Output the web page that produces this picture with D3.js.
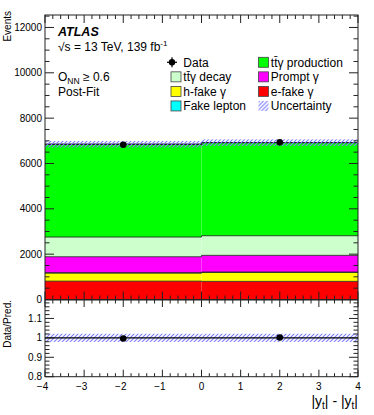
<!DOCTYPE html>
<html>
<head>
<meta charset="utf-8">
<script src="https://cdn.jsdelivr.net/npm/d3@7"></script>
<style>
body { margin: 0; background: #fff; }
text { font-family: "Liberation Sans", Arial, sans-serif; fill: #000; }
</style>
</head>
<body>
<div id="chart"></div>
<script>
// bins in |y_t| - |y_tbar|
const binEdges = [-4, 0, 4];
const binCenters = [-2, 2];

// stacked post-fit prediction, bottom to top
const eFake = [810, 800];
const hFake = [355, 395];
const fakeLepton = [15, 15];
const promptGamma = [706, 737];
const ttDecay = [869, 866];
const ttProduction = [4093, 4106];

const dataValues = [6828, 6932];
const relUncertainty = [0.021, 0.021];

const xTicks = [-4, -3, -2, -1, 0, 1, 2, 3, 4];
const yTicksMain = [0, 2000, 4000, 6000, 8000, 10000, 12000];
const yTicksRatio = [0.8, 0.9, 1, 1.1];

const width = 374, height = 415;
const left = 45, right = 358;
const mainTop = 15, mainBottom = 299.5;
const ratioTop = 300, ratioBottom = 376.7;

const svg = d3.select("#chart").append("svg")
    .attr("width", width)
    .attr("height", height);

const defs = svg.append("defs");
defs.append("pattern")
    .attr("id", "hatch")
    .attr("patternUnits", "userSpaceOnUse")
    .attr("width", 4).attr("height", 4)
    .append("path")
    .attr("d", "M-1,1 l2,-2 M0,4 l4,-4 M3,5 l2,-2")
    .attr("fill", "none")
    .attr("stroke", "#7b7bff")
    .attr("stroke-width", 1.1);

const x = d3.scaleLinear().domain([-4, 4]).range([left, right]);
const y = d3.scaleLinear().domain([0, 12550]).range([mainBottom, mainTop]);
const yr = d3.scaleLinear().domain([0.8, 1.195]).range([ratioBottom, ratioTop]);

const samples = [
    {key: "eFake", values: eFake, color: "#ff0000"},
    {key: "hFake", values: hFake, color: "#ffff00"},
    {key: "fakeLepton", values: fakeLepton, color: "#00ffff"},
    {key: "prompt", values: promptGamma, color: "#ff00ff"},
    {key: "ttDecay", values: ttDecay, color: "#ccffcc"},
    {key: "ttProd", values: ttProduction, color: "#00ff00"}
];

const rows = binCenters.map((c, i) => {
    const r = {bin: i};
    samples.forEach(s => r[s.key] = s.values[i]);
    return r;
});
const stacked = d3.stack().keys(samples.map(s => s.key))(rows);
const totals = rows.map((r, i) => d3.sum(samples, s => s.values[i]));

// stacked histogram
const main = svg.append("g");
stacked.forEach((layer, li) => {
    main.append("g")
        .attr("fill", samples[li].color)
        .selectAll("rect")
        .data(layer)
        .join("rect")
        .attr("x", (d, i) => x(binEdges[i]))
        .attr("width", (d, i) => x(binEdges[i + 1]) - x(binEdges[i]))
        .attr("y", d => y(d[1]))
        .attr("height", d => y(d[0]) - y(d[1]));
});

const step = d3.line().curve(d3.curveStepAfter).x(d => x(d[0])).y(d => d[1]);
const stepPoints = (vals, sc) => binEdges.map((e, i) => [e, sc(vals[Math.min(i, vals.length - 1)])]);

stacked.forEach((layer, li) => {
    main.append("path")
        .attr("d", step(stepPoints(layer.map(d => d[1]), y)))
        .attr("fill", "none")
        .attr("stroke", "#1a1a1a")
        .attr("stroke-width", li === stacked.length - 1 ? 1.3 : 0.8);
});

// uncertainty band
main.append("g").selectAll("rect")
    .data(totals)
    .join("rect")
    .attr("x", (d, i) => x(binEdges[i]))
    .attr("width", (d, i) => x(binEdges[i + 1]) - x(binEdges[i]))
    .attr("y", (d, i) => y(d * (1 + relUncertainty[i])))
    .attr("height", (d, i) => y(d * (1 - relUncertainty[i])) - y(d * (1 + relUncertainty[i])))
    .attr("fill", "url(#hatch)");

// data
const dataG = main.append("g");
dataG.selectAll("line")
    .data(dataValues)
    .join("line")
    .attr("x1", (d, i) => x(binCenters[i])).attr("x2", (d, i) => x(binCenters[i]))
    .attr("y1", d => y(d + Math.sqrt(d))).attr("y2", d => y(d - Math.sqrt(d)))
    .attr("stroke", "#000").attr("stroke-width", 1.2);
dataG.selectAll("circle")
    .data(dataValues)
    .join("circle")
    .attr("cx", (d, i) => x(binCenters[i]))
    .attr("cy", d => y(d))
    .attr("r", 3.3)
    .attr("fill", "#000");

// ratio panel
const ratio = svg.append("g");
ratio.append("g").selectAll("rect")
    .data(relUncertainty)
    .join("rect")
    .attr("x", (d, i) => x(binEdges[i]))
    .attr("width", (d, i) => x(binEdges[i + 1]) - x(binEdges[i]))
    .attr("y", d => yr(1 + d))
    .attr("height", d => yr(1 - d) - yr(1 + d))
    .attr("fill", "url(#hatch)");
ratio.append("line")
    .attr("x1", x(-4)).attr("x2", x(4))
    .attr("y1", yr(1)).attr("y2", yr(1))
    .attr("stroke", "#000").attr("stroke-width", 1.2);
const ratios = dataValues.map((d, i) => d / totals[i]);
ratio.selectAll("line.err")
    .data(ratios)
    .join("line")
    .attr("class", "err")
    .attr("x1", (d, i) => x(binCenters[i])).attr("x2", (d, i) => x(binCenters[i]))
    .attr("y1", (d, i) => yr(d + Math.sqrt(dataValues[i]) / totals[i]))
    .attr("y2", (d, i) => yr(d - Math.sqrt(dataValues[i]) / totals[i]))
    .attr("stroke", "#000").attr("stroke-width", 1.2);
ratio.selectAll("circle")
    .data(ratios)
    .join("circle")
    .attr("cx", (d, i) => x(binCenters[i]))
    .attr("cy", d => yr(d))
    .attr("r", 3.3)
    .attr("fill", "#000");

// axes with ROOT style inward ticks
const axisColor = "#222";
function drawTicks(g, values, orient, pos, len, sc) {
    g.selectAll(null)
        .data(values)
        .join("line")
        .attr("x1", d => orient === "h" ? sc(d) : pos)
        .attr("x2", d => orient === "h" ? sc(d) : pos + len)
        .attr("y1", d => orient === "h" ? pos : sc(d))
        .attr("y2", d => orient === "h" ? pos + len : sc(d))
        .attr("stroke", axisColor)
        .attr("stroke-width", 1);
}
const xMinor = d3.range(-4, 4.001, 0.2).filter(v => Math.abs(v - Math.round(v)) > 1e-6);
const yMinorMain = d3.range(0, 12550, 500).filter(v => v % 2000 !== 0);
const yMinorRatio = d3.range(0.8, 1.195, 0.02).filter(v => Math.abs(v * 10 - Math.round(v * 10)) > 1e-6);

const axes = svg.append("g");
// main panel
drawTicks(axes, xTicks, "h", mainBottom, -8, x);
drawTicks(axes, xMinor, "h", mainBottom, -4, x);
drawTicks(axes, xTicks, "h", mainTop, 8, x);
drawTicks(axes, xMinor, "h", mainTop, 4, x);
drawTicks(axes, yTicksMain, "v", left, 9, y);
drawTicks(axes, yMinorMain, "v", left, 4.5, y);
drawTicks(axes, yTicksMain, "v", right, -9, y);
drawTicks(axes, yMinorMain, "v", right, -4.5, y);
// ratio panel
drawTicks(axes, xTicks, "h", ratioBottom, -7, x);
drawTicks(axes, xMinor, "h", ratioBottom, -3.5, x);
drawTicks(axes, xTicks, "h", ratioTop, 7, x);
drawTicks(axes, xMinor, "h", ratioTop, 3.5, x);
drawTicks(axes, yTicksRatio, "v", left, 9, yr);
drawTicks(axes, yMinorRatio, "v", left, 4.5, yr);
drawTicks(axes, yTicksRatio, "v", right, -9, yr);
drawTicks(axes, yMinorRatio, "v", right, -4.5, yr);

axes.append("rect")
    .attr("x", left).attr("y", mainTop)
    .attr("width", right - left).attr("height", mainBottom - mainTop)
    .attr("fill", "none").attr("stroke", axisColor).attr("stroke-width", 1);
axes.append("rect")
    .attr("x", left).attr("y", ratioTop)
    .attr("width", right - left).attr("height", ratioBottom - ratioTop)
    .attr("fill", "none").attr("stroke", axisColor).attr("stroke-width", 1);

// tick labels
const tickFont = 10;
axes.append("g").selectAll("text")
    .data(yTicksMain)
    .join("text")
    .attr("x", left - 3)
    .attr("y", d => y(d) + 3.6)
    .attr("text-anchor", "end")
    .attr("font-size", tickFont)
    .text(d => d);
axes.append("g").selectAll("text")
    .data(yTicksRatio)
    .join("text")
    .attr("x", left - 3)
    .attr("y", d => yr(d) + 3.6)
    .attr("text-anchor", "end")
    .attr("font-size", tickFont)
    .text(d => d3.format("")(d));
axes.append("g").selectAll("text")
    .data(xTicks)
    .join("text")
    .attr("x", d => x(d) - (d < 0 ? 2.5 : 0))
    .attr("y", ratioBottom + 13.5)
    .attr("text-anchor", "middle")
    .attr("font-size", tickFont)
    .text(d => d3.format("")(d));

// axis titles
svg.append("text")
    .attr("transform", "translate(11,11) rotate(-90)")
    .attr("text-anchor", "end")
    .attr("font-size", 10)
    .text("Events");
svg.append("text")
    .attr("transform", "translate(11,300) rotate(-90)")
    .attr("text-anchor", "end")
    .attr("font-size", 10)
    .text("Data/Pred.");
const xTitle = svg.append("text")
    .attr("x", right)
    .attr("y", 406)
    .attr("text-anchor", "end")
    .attr("font-size", 14);
xTitle.append("tspan").text("|y");
xTitle.append("tspan").attr("font-size", 10).attr("dy", 3).text("t");
xTitle.append("tspan").attr("dy", -3).text("| - |y");
xTitle.append("tspan").attr("font-size", 10).attr("dy", 3).text("t");
xTitle.append("tspan").attr("dy", -3).text("|");

// labels
svg.append("text")
    .attr("x", 58).attr("y", 36)
    .attr("font-size", 12.5)
    .attr("font-weight", "bold")
    .attr("font-style", "italic")
    .text("ATLAS");
const lumi = svg.append("text")
    .attr("x", 58).attr("y", 50.5)
    .attr("font-size", 12);
lumi.append("tspan").text("√s = 13 TeV, 139 fb");
lumi.append("tspan").attr("font-size", 8).attr("dy", -5).text("-1");
const onn = svg.append("text")
    .attr("x", 58).attr("y", 81)
    .attr("font-size", 12);
onn.append("tspan").text("O");
onn.append("tspan").attr("font-size", 8.5).attr("dy", 3).text("NN");
onn.append("tspan").attr("dy", -3).text(" ≥ 0.6");
svg.append("text")
    .attr("x", 58).attr("y", 96)
    .attr("font-size", 12)
    .text("Post-Fit");

// legend
const legendEntries = [
    {label: "Data", type: "data"},
    {label: "tt̄γ production", type: "box", color: "#00ff00"},
    {label: "tt̄γ decay", type: "box", color: "#ccffcc"},
    {label: "Prompt γ", type: "box", color: "#ff00ff"},
    {label: "h-fake γ", type: "box", color: "#ffff00"},
    {label: "e-fake γ", type: "box", color: "#ff0000"},
    {label: "Fake lepton", type: "box", color: "#00ffff"},
    {label: "Uncertainty", type: "hatch"}
];
const legendCols = [171, 258.5];
const legendRow0 = 62.3, legendRowStep = 14.55;
const legend = svg.append("g");
legendEntries.forEach((e, i) => {
    const cx = legendCols[i % 2];
    const cy = legendRow0 + Math.floor(i / 2) * legendRowStep;
    const g = legend.append("g").attr("transform", `translate(${cx},${cy})`);
    if (e.type === "data") {
        g.append("line").attr("x1", -4).attr("x2", 6).attr("y1", 0).attr("y2", 0)
            .attr("stroke", "#000").attr("stroke-width", 1.2);
        g.append("line").attr("x1", 1).attr("x2", 1).attr("y1", -5).attr("y2", 5)
            .attr("stroke", "#000").attr("stroke-width", 1.2);
        g.append("circle").attr("cx", 1).attr("cy", 0).attr("r", 3.2).attr("fill", "#000");
    } else {
        g.append("rect")
            .attr("x", 0).attr("y", -5)
            .attr("width", 10).attr("height", 10)
            .attr("fill", e.type === "hatch" ? "url(#hatch)" : e.color)
            .attr("stroke", e.type === "hatch" ? "none" : "#444")
            .attr("stroke-width", 0.8);
    }
    g.append("text")
        .attr("x", 12.3).attr("y", 4.3)
        .attr("font-size", 12)
        .text(e.label);
});
</script>
</body>
</html>
